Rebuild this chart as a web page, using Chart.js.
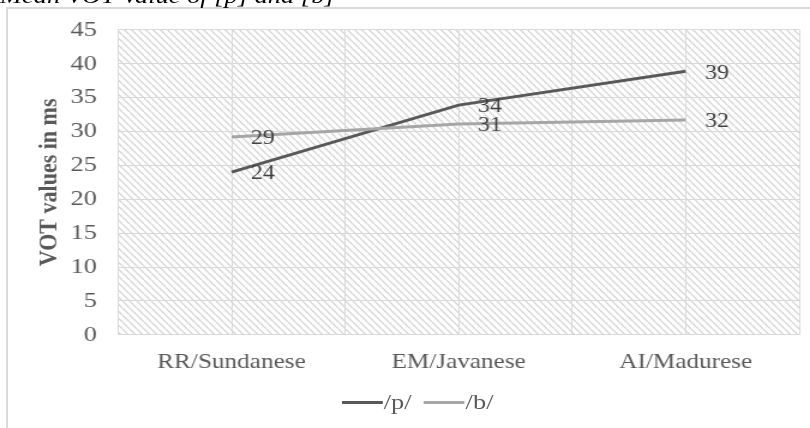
<!DOCTYPE html>
<html>
<head>
<meta charset="utf-8">
<script src="https://cdn.jsdelivr.net/npm/chart.js@4.4.1/dist/chart.umd.min.js"></script>
<style>
  html, body { margin: 0; padding: 0; background: #fff; overflow: hidden; }
  body { width: 810px; height: 428px; position: relative; }
  #frame { position: absolute; left: 6px; top: 7px; width: 900px; height: 600px; border: 2px solid #d9d9d9; }
  /* the reference picture is stretched sideways, so the whole stage is too */
  #stage { position: absolute; left: 0; top: 0; width: 675px; height: 428px; transform: scaleX(1.2); transform-origin: 0 0; }
  #title { position: absolute; left: 0; top: -15px; font: italic 22px "Liberation Serif", serif; line-height: 22px; color: #000; white-space: nowrap; }
  #wrap { position: absolute; left: 0; top: 0; width: 675px; height: 428px; }
  #legend { position: absolute; left: 0; width: 696px; top: 389px; display: flex; justify-content: center; align-items: center; font: 22px "Liberation Serif", serif; line-height: 26px; color: #595959; }
  #legend .item { display: flex; align-items: center; margin: 0 5px; }
  #legend .swatch { width: 34px; height: 3px; margin-right: 1px; }
</style>
</head>
<body>
<div id="frame"></div>
<div id="stage">
  <div id="title">Mean VOT Value of [p] and [b]</div>
  <div id="wrap"><canvas id="chart"></canvas></div>
  <div id="legend"></div>
</div>
<script>
// chart values
const speakers = ['RR/Sundanese', 'EM/Javanese', 'AI/Madurese'];
const seriesNames = ['/p/', '/b/'];
const pValues = [24.0, 33.9, 38.9];
const bValues = [29.2, 31.1, 31.7];
const seriesColors = ['#595959', '#a6a6a6'];
const yTicksMax = 45;
const yTicksStep = 5;

const textGrey = '#595959';
const gridGrey = '#d9d9d9';
const serif = '"Liberation Serif", "Times New Roman", serif';

// diagonal hatch tile for the plot area
function makeHatch() {
    const c = document.createElement('canvas');
    c.width = 6;
    c.height = 7;
    const g = c.getContext('2d');
    g.strokeStyle = '#d6d6d6';
    g.lineWidth = 1.4;
    for (const k of [-6, 0, 6]) {
        g.beginPath();
        g.moveTo(k, 0);
        g.lineTo(k + 6, 7);
        g.stroke();
    }
    return c;
}

const hatchPlugin = {
    id: 'hatch',
    beforeDraw(chart) {
        const { ctx, chartArea } = chart;
        ctx.save();
        ctx.fillStyle = ctx.createPattern(makeHatch(), 'repeat');
        ctx.fillRect(chartArea.left, chartArea.top, chartArea.right - chartArea.left, chartArea.bottom - chartArea.top);
        ctx.restore();
    }
};

// Excel draws vertical lines at category centres too
const centreLinesPlugin = {
    id: 'centreLines',
    beforeDatasetsDraw(chart) {
        const { ctx, chartArea } = chart;
        const xScale = chart.scales.x;
        ctx.save();
        ctx.strokeStyle = gridGrey;
        ctx.lineWidth = 1;
        speakers.forEach((s, i) => {
            const x = Math.round(xScale.getPixelForValue(i)) + 0.5;
            ctx.beginPath();
            ctx.moveTo(x, chartArea.top);
            ctx.lineTo(x, chartArea.bottom);
            ctx.stroke();
        });
        ctx.restore();
    }
};

const valueLabelsPlugin = {
    id: 'valueLabels',
    afterDatasetsDraw(chart) {
        const ctx = chart.ctx;
        ctx.save();
        ctx.font = '20px ' + serif;
        ctx.fillStyle = '#404040';
        ctx.textAlign = 'left';
        ctx.textBaseline = 'middle';
        chart.data.datasets.forEach((ds, i) => {
            chart.getDatasetMeta(i).data.forEach((pt, j) => {
                ctx.fillText(String(Math.round(ds.data[j])), pt.x + 16, pt.y + 2);
            });
        });
        ctx.restore();
    }
};

const data = {
    labels: speakers,
    datasets: [
        {
            label: seriesNames[0],
            data: pValues,
            borderColor: seriesColors[0],
            backgroundColor: seriesColors[0],
            borderWidth: 3,
            pointRadius: 0,
            tension: 0,
            order: 2
        },
        {
            label: seriesNames[1],
            data: bValues,
            borderColor: seriesColors[1],
            backgroundColor: seriesColors[1],
            borderWidth: 3,
            pointRadius: 0,
            tension: 0,
            order: 1
        }
    ]
};

new Chart(document.getElementById('chart'), {
    type: 'line',
    data: data,
    plugins: [hatchPlugin, centreLinesPlugin, valueLabelsPlugin],
    options: {
        responsive: true,
        maintainAspectRatio: false,
        animation: false,
        layout: {
            padding: { left: 24.5, top: 10, right: 9, bottom: 38 }
        },
        plugins: {
            legend: { display: false },
            tooltip: { enabled: false }
        },
        scales: {
            x: {
                offset: true,
                grid: {
                    offset: true,
                    color: gridGrey,
                    drawTicks: false
                },
                border: { color: gridGrey },
                ticks: {
                    padding: 15,
                    color: textGrey,
                    font: { family: serif, size: 21 }
                }
            },
            y: {
                min: 0,
                max: yTicksMax,
                grid: {
                    color: gridGrey,
                    drawTicks: false
                },
                border: { display: false },
                ticks: {
                    stepSize: yTicksStep,
                    padding: 17.5,
                    color: textGrey,
                    // lineHeight also sets how far the plot top sits from the canvas top
                    font: { family: serif, size: 22, lineHeight: 1.13 }
                },
                title: {
                    display: true,
                    text: 'VOT values in ms',
                    color: textGrey,
                    padding: { top: 4, bottom: -13.6 },
                    font: { family: serif, size: 22, weight: 'bold' }
                }
            }
        }
    }
});

// legend built from the same series arrays
const legendEl = document.getElementById('legend');
seriesNames.forEach((name, i) => {
    const item = document.createElement('div');
    item.className = 'item';
    const sw = document.createElement('span');
    sw.className = 'swatch';
    sw.style.background = seriesColors[i];
    const txt = document.createElement('span');
    txt.textContent = name;
    item.appendChild(sw);
    item.appendChild(txt);
    legendEl.appendChild(item);
});
</script>
</body>
</html>
